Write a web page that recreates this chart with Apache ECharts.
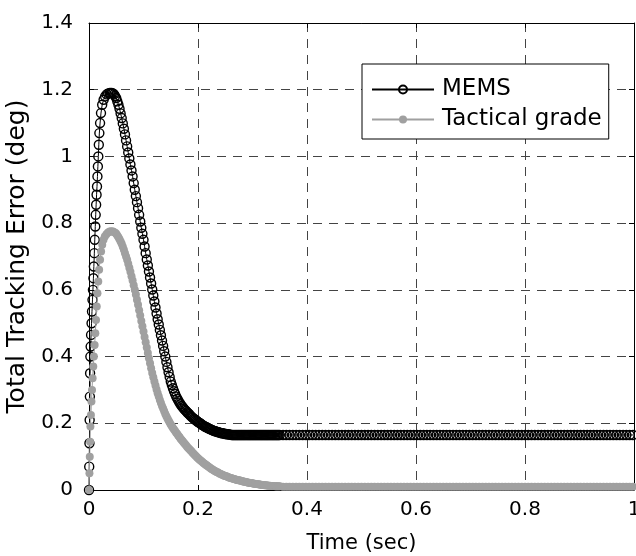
<!DOCTYPE html>
<html>
<head>
<meta charset="utf-8">
<script src="https://cdn.jsdelivr.net/npm/echarts@6/dist/echarts.min.js"></script>
<style>
html,body{margin:0;padding:0;background:#fff;}
#chart{width:636px;height:556px;}
</style>
</head>
<body>
<div id="chart"></div>
<script>
// ---- data (time in milliseconds, error in degrees) ----
const seriesNames = ['MEMS', 'Tactical grade'];
const xTicks = [0, 0.2, 0.4, 0.6, 0.8, 1];
const yTicks = [0, 0.2, 0.4, 0.6, 0.8, 1, 1.2, 1.4];

// initial transient samples (solver steps are finer here)
const memsRiseMs = [0, 0.4, 0.8, 1.2, 1.6, 2.0, 2.5,
  3.0, 3.8, 4.7, 5.5, 6.4, 7.2, 8.1, 8.9, 9.8, 10.6, 11.5, 12.3,
  13.1, 13.9, 14.7, 15.5, 16.3, 17.1, 18.0, 19.0, 20.3, 22.0, 24.2, 26.8, 29.6, 32.4, 35.2, 38.0, 40.0, 42.0];
const memsRiseErr = [0, 0.07, 0.14, 0.21, 0.28, 0.35, 0.40,
  0.43, 0.465, 0.50, 0.535, 0.57, 0.60, 0.635, 0.67, 0.71, 0.75, 0.79, 0.825,
  0.855, 0.885, 0.91, 0.94, 0.97, 1.0, 1.035, 1.07, 1.10, 1.13, 1.155, 1.17, 1.18, 1.186, 1.189, 1.19, 1.19, 1.19];

const tacRiseMs = [0, 0.8, 1.4, 2.0, 2.6, 3.5, 4.5, 5.5, 6.6, 7.8, 9.0, 10.3, 11.6, 12.9,
  14.2, 15.5, 17.0, 18.6, 20.3, 22.2, 24.3, 26.6, 29.0, 32.0, 35.0, 38.0, 41.0];
const tacRiseErr = [0, 0.05, 0.10, 0.145, 0.19, 0.225, 0.265, 0.30, 0.335, 0.37, 0.40, 0.435, 0.47, 0.51,
  0.55, 0.59, 0.625, 0.66, 0.69, 0.715, 0.735, 0.75, 0.76, 0.767, 0.772, 0.775, 0.776];

// common samples after the peak
const sharedMs = [
  44,46,48,50,52,54,56,58,60,62,64,66,68,70,72,74,76,78,80,82,84,86,88,90,92,94,96,98,100,
  102,104,106,108,110,112,114,116,118,120,122,124,126,128,130,132,134,136,138,140,
  142,144,146,148,150,152,154,156,158,160,162,164,166,168,170,172,174,176,178,180,
  182,184,186,188,190,192,194,196,198,200,
  202,204,206,208,210,212,214,216,218,220,222,224,226,228,230,232,234,236,238,240,
  242,244,246,248,250,252,254,256,258,260,262,264,266,268,270,272,274,276,278,280,
  282,284,286,288,290,292,294,296,298,300,
  302,304,306,308,310,312,314,316,318,320,322,324,326,328,330,332,334,336,338,340,
  342,344,346,348,350,
  356,362,368,374,380,386,392,398,404,410,416,422,
  428,434,440,446,452,458,464,470,476,482,488,494,
  500,506,512,518,524,530,536,542,548,554,560,566,
  572,578,584,590,596,602,608,614,620,626,632,638,
  644,650,656,662,668,674,680,686,692,698,704,710,
  716,722,728,734,740,746,752,758,764,770,776,782,
  788,794,800,806,812,818,824,830,836,842,848,854,
  860,866,872,878,884,890,896,902,908,914,920,926,
  932,938,944,950,956,962,968,974,980,986,992,998
];

const memsErr = [
  1.189,1.186,1.181,1.175,1.165,1.155,1.143,1.129,1.115,1.099,1.083,1.066,1.048,1.030,
  1.012,0.994,0.976,0.958,0.940,0.920,0.900,0.881,0.863,0.845,0.825,0.805,0.786,0.768,0.750,
  0.730,0.710,0.691,0.673,0.655,0.637,0.619,0.601,0.583,0.565,0.547,0.529,0.512,0.496,0.480,
  0.464,0.448,0.432,0.416,0.400,0.384,0.368,0.353,0.339,0.325,0.315,0.305,0.296,0.288,0.280,
  0.274,0.268,0.262,0.257,0.252,0.248,0.244,0.240,0.237,0.233,0.230,0.227,0.223,0.220,0.217,
  0.214,0.212,0.209,0.207,0.204,
  0.202,0.200,0.197,0.195,0.193,0.191,0.189,0.188,0.186,0.184,0.183,0.181,0.180,0.178,0.177,
  0.176,0.175,0.174,0.173,0.172,0.171,0.170,0.170,0.169,0.168,0.168,0.167,0.167,0.166,0.166,
  0.165,0.165,0.165,0.165,0.165,0.165,0.165,0.165,0.165,0.165,
  0.165,0.165,0.165,0.165,0.165,0.165,0.165,0.165,0.165,0.165,
  0.165,0.165,0.165,0.165,0.165,0.165,0.165,0.165,0.165,0.165,
  0.165,0.165,0.165,0.165,0.165,0.165,0.165,0.165,0.165,0.165,
  0.165,0.165,0.165,0.165,0.165,0.165,0.165,0.165,0.165,0.165,
  0.165,0.165,0.165,0.165,0.165,
  0.165,0.165,0.165,0.165,0.165,0.165,0.165,0.165,0.165,0.165,0.165,0.165,
  0.165,0.165,0.165,0.165,0.165,0.165,0.165,0.165,0.165,0.165,0.165,0.165,
  0.165,0.165,0.165,0.165,0.165,0.165,0.165,0.165,0.165,0.165,0.165,0.165,
  0.165,0.165,0.165,0.165,0.165,0.165,0.165,0.165,0.165,0.165,0.165,0.165,
  0.165,0.165,0.165,0.165,0.165,0.165,0.165,0.165,0.165,0.165,0.165,0.165,
  0.165,0.165,0.165,0.165,0.165,0.165,0.165,0.165,0.165,0.165,0.165,0.165,
  0.165,0.165,0.165,0.165,0.165,0.165,0.165,0.165,0.165,0.165,0.165,0.165,
  0.165,0.165,0.165,0.165,0.165,0.165,0.165,0.165,0.165,0.165,0.165,0.165,
  0.165,0.165,0.165,0.165,0.165,0.165,0.165,0.165,0.165,0.165,0.165,0.165
];

const tacErr = [
  0.775,0.773,0.771,0.768,0.763,0.758,0.752,0.745,0.738,0.729,0.720,0.710,0.700,0.690,
  0.678,0.666,0.654,0.641,0.628,0.614,0.600,0.586,0.570,0.555,0.539,0.523,0.507,0.491,0.475,
  0.459,0.443,0.427,0.411,0.395,0.380,0.365,0.351,0.338,0.325,0.313,0.301,0.290,0.280,0.270,
  0.261,0.252,0.244,0.236,0.228,0.221,0.214,0.208,0.202,0.196,0.191,0.186,0.181,0.177,0.172,
  0.168,0.163,0.159,0.154,0.150,0.146,0.142,0.138,0.134,0.130,0.126,0.123,0.119,0.116,0.112,
  0.109,0.105,0.102,0.098,0.095,
  0.092,0.089,0.087,0.084,0.081,0.079,0.076,0.074,0.071,0.069,0.067,0.064,0.062,0.060,0.058,
  0.056,0.054,0.053,0.051,0.049,0.048,0.046,0.045,0.043,0.042,0.041,0.040,0.038,0.037,0.036,
  0.035,0.034,0.033,0.032,0.031,0.030,0.029,0.029,0.028,0.027,
  0.026,0.025,0.025,0.024,0.023,0.022,0.022,0.021,0.021,0.020,
  0.019,0.019,0.018,0.018,0.017,0.017,0.016,0.016,0.015,0.015,
  0.014,0.014,0.014,0.013,0.013,0.013,0.012,0.012,0.012,0.012,
  0.011,0.011,0.011,0.011,0.011,
  0.010,0.010,0.010,0.010,0.010,0.010,0.010,0.010,0.010,0.010,0.010,0.010,
  0.010,0.010,0.010,0.010,0.010,0.010,0.010,0.010,0.010,0.010,0.010,0.010,
  0.010,0.010,0.010,0.010,0.010,0.010,0.010,0.010,0.010,0.010,0.010,0.010,
  0.010,0.010,0.010,0.010,0.010,0.010,0.010,0.010,0.010,0.010,0.010,0.010,
  0.010,0.010,0.010,0.010,0.010,0.010,0.010,0.010,0.010,0.010,0.010,0.010,
  0.010,0.010,0.010,0.010,0.010,0.010,0.010,0.010,0.010,0.010,0.010,0.010,
  0.010,0.010,0.010,0.010,0.010,0.010,0.010,0.010,0.010,0.010,0.010,0.010,
  0.010,0.010,0.010,0.010,0.010,0.010,0.010,0.010,0.010,0.010,0.010,0.010,
  0.010,0.010,0.010,0.010,0.010,0.010,0.010,0.010,0.010,0.010,0.010,0.010
];

// ---- build ----
function pairs(ms, vals) {
  const out = [];
  const n = Math.min(ms.length, vals.length);
  if (ms.length !== vals.length) console.error('length mismatch', ms.length, vals.length);
  for (let i = 0; i < n; i++) out.push([ms[i] / 1000, vals[i]]);
  return out;
}
const memsData = pairs(memsRiseMs.concat(sharedMs), memsRiseErr.concat(memsErr));
const tacData = pairs(tacRiseMs.concat(sharedMs), tacRiseErr.concat(tacErr));

const FONT = 'DejaVu Sans';
const gridLine = { show: true, lineStyle: { color: '#444', width: 1, type: [9, 7] } };
const axLine = { show: true, onZero: false, lineStyle: { color: '#000', width: 1 } };
const tick = { show: true, inside: true, length: 5, lineStyle: { color: '#000' } };
const xMin = xTicks[0], xMax = xTicks[xTicks.length - 1], xInt = xTicks[1] - xTicks[0];
const yMin = yTicks[0], yMax = yTicks[yTicks.length - 1], yInt = yTicks[1] - yTicks[0];
const fmt = v => String(+v.toFixed(1));

const chart = echarts.init(document.getElementById('chart'), null, { renderer: 'canvas' });
chart.setOption({
  animation: false,
  backgroundColor: '#fff',
  grid: { left: 89, right: 2, top: 23, bottom: 66, containLabel: false, outerBoundsMode: 'none' },
  legend: {
    orient: 'vertical',
    left: 362, top: 64,
    data: seriesNames,
    backgroundColor: '#fff',
    borderColor: '#000', borderWidth: 1, borderRadius: 0,
    padding: [14, 7, 8, 9],
    itemWidth: 62, itemHeight: 10, itemGap: 7,
    selectedMode: false,
    textStyle: { fontFamily: FONT, fontSize: 23, color: '#000', padding: [0, 0, 0, 3] },
    z: 10
  },
  xAxis: [
    { type: 'value', position: 'bottom', min: xMin, max: xMax, interval: xInt,
      axisLine: axLine, axisTick: tick, splitLine: gridLine,
      axisLabel: { fontFamily: FONT, fontSize: 20, color: '#000', margin: 10, formatter: fmt },
      name: 'Time (sec)', nameLocation: 'middle', nameGap: 43,
      nameTextStyle: { fontFamily: FONT, fontSize: 21, color: '#000' } },
    { type: 'value', position: 'top', min: xMin, max: xMax, interval: xInt,
      axisLine: axLine, axisTick: tick, splitLine: { show: false }, axisLabel: { show: false } }
  ],
  yAxis: [
    { type: 'value', position: 'left', min: yMin, max: yMax, interval: yInt,
      axisLine: axLine, axisTick: tick, splitLine: gridLine,
      axisLabel: { fontFamily: FONT, fontSize: 20, color: '#000', margin: 16, formatter: fmt },
      name: 'Total Tracking Error (deg)', nameLocation: 'middle', nameGap: 56,
      nameTextStyle: { fontFamily: FONT, fontSize: 25, color: '#000' } },
    { type: 'value', position: 'right', min: yMin, max: yMax, interval: yInt,
      axisLine: axLine, axisTick: tick, splitLine: { show: false }, axisLabel: { show: false } }
  ],
  series: [
    { name: seriesNames[0], type: 'line', data: memsData, xAxisIndex: 0, yAxisIndex: 0,
      symbol: 'circle', symbolSize: 9, showAllSymbol: true, clip: false, silent: true,
      itemStyle: { color: 'rgba(0,0,0,0)', borderColor: '#000', borderWidth: 1.4 },
      lineStyle: { color: '#000', width: 1 },
      emphasis: { disabled: true }, z: 3 },
    { name: seriesNames[1], type: 'line', data: tacData, xAxisIndex: 0, yAxisIndex: 0,
      symbol: 'circle', symbolSize: 8, showAllSymbol: true, clip: false, silent: true,
      itemStyle: { color: '#a0a0a0', borderWidth: 0 },
      lineStyle: { color: '#a0a0a0', width: 1 },
      emphasis: { disabled: true }, z: 4 }
  ]
});
</script>
</body>
</html>
